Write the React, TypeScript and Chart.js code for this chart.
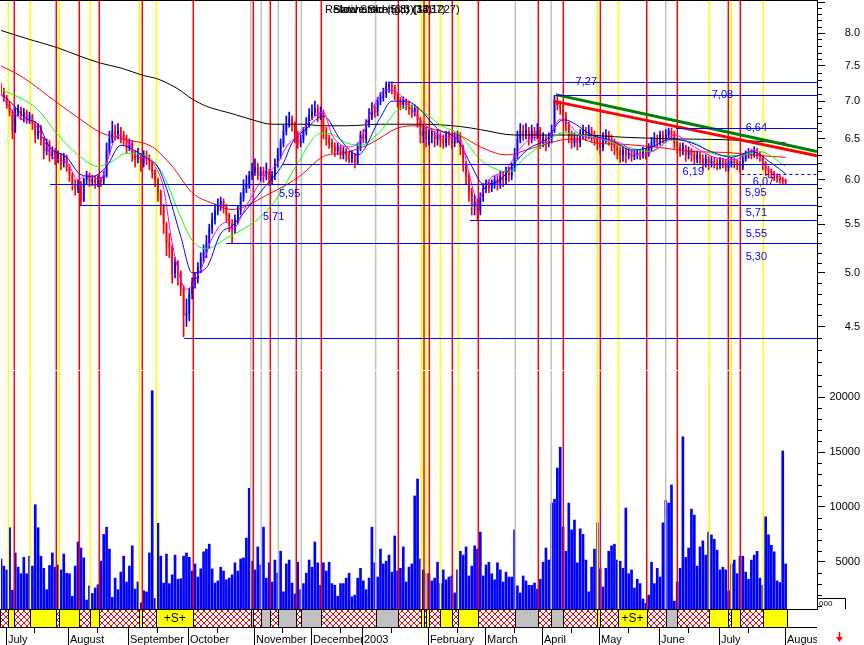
import React, { useEffect, useRef } from 'react';
import { Chart, registerables } from 'chart.js';
Chart.register(...registerables);

// ---------- data ----------
const N_SLOTS = 287; // trading-day slots on the x axis (data + empty space at right)
const FIRST_OPEN = 7.2;

const CLOSE = [
  7.15,7.05,6.95,6.85,6.6,6.85,6.9,6.8,6.85,6.75,
  6.8,6.7,6.55,6.65,6.5,6.35,6.45,6.3,6.35,6.25,
  6.3,6.2,6.28,6.15,6.05,5.95,5.9,5.95,5.75,6.0,
  6.05,5.98,6.0,5.97,6.0,5.98,6.05,6.35,6.5,6.6,
  6.55,6.6,6.55,6.5,6.4,6.45,6.3,6.25,6.3,6.2,
  6.3,6.25,6.2,6.1,6.0,5.85,5.7,5.5,5.3,5.25,
  5.0,5.1,5.0,4.85,4.6,4.62,4.8,4.9,4.95,5.05,
  5.15,5.2,5.3,5.45,5.55,5.65,5.7,5.75,5.7,5.6,
  5.5,5.45,5.55,5.65,5.8,5.9,5.95,6.05,6.1,6.15,
  6.05,6.1,6.05,6.1,6.0,6.05,6.2,6.3,6.45,6.6,
  6.7,6.75,6.7,6.55,6.45,6.5,6.6,6.7,6.8,6.85,
  6.9,6.8,6.85,6.6,6.5,6.45,6.4,6.35,6.4,6.3,
  6.35,6.3,6.25,6.3,6.2,6.4,6.55,6.5,6.7,6.8,
  6.9,6.85,7.0,7.05,7.1,7.2,7.22,7.2,7.1,7.0,
  6.95,7.0,6.95,6.9,6.85,6.9,6.75,6.55,6.6,6.5,
  6.55,6.55,6.5,6.55,6.5,6.45,6.55,6.5,6.45,6.5,
  6.55,6.4,6.2,6.05,5.85,5.7,5.75,5.65,5.8,5.9,
  5.95,5.9,5.95,6.0,5.95,6.05,6.0,6.1,6.05,6.15,
  6.3,6.5,6.6,6.55,6.6,6.5,6.6,6.55,6.6,6.45,
  6.5,6.45,6.5,6.6,7.0,6.95,6.9,6.8,6.7,6.55,
  6.45,6.5,6.45,6.55,6.6,6.55,6.6,6.55,6.5,6.45,
  6.4,6.5,6.55,6.5,6.45,6.4,6.35,6.3,6.35,6.3,
  6.32,6.28,6.3,6.32,6.3,6.35,6.3,6.38,6.45,6.5,
  6.45,6.55,6.5,6.55,6.6,6.55,6.45,6.4,6.35,6.4,
  6.3,6.35,6.3,6.25,6.3,6.25,6.2,6.25,6.2,6.22,
  6.2,6.18,6.22,6.2,6.15,6.2,6.22,6.2,6.18,6.15,
  6.25,6.3,6.32,6.3,6.35,6.3,6.28,6.2,6.12,6.1,
  6.08,6.05,6.02,6.0,5.98,5.97
];
const HIGH = [
  7.25,7.18,7.08,7.0,6.88,6.9,6.95,6.92,6.9,6.88,
  6.85,6.82,6.72,6.7,6.68,6.52,6.5,6.48,6.4,6.38,
  6.35,6.32,6.32,6.3,6.18,6.08,6.0,6.0,5.98,6.02,
  6.1,6.08,6.05,6.04,6.05,6.03,6.1,6.45,6.6,6.73,
  6.68,6.7,6.65,6.6,6.55,6.5,6.48,6.35,6.38,6.32,
  6.35,6.35,6.3,6.22,6.12,6.02,5.88,5.72,5.52,5.4,
  5.28,5.15,5.12,5.02,4.88,4.75,4.85,4.95,5.0,5.1,
  5.2,5.28,5.38,5.5,5.62,5.72,5.78,5.8,5.78,5.72,
  5.62,5.55,5.6,5.7,5.85,6.0,6.05,6.1,6.2,6.25,
  6.2,6.15,6.15,6.2,6.12,6.1,6.25,6.38,6.5,6.68,
  6.8,6.85,6.8,6.72,6.6,6.55,6.65,6.78,6.9,6.95,
  7.0,6.95,6.92,6.88,6.65,6.55,6.5,6.45,6.45,6.42,
  6.4,6.38,6.33,6.35,6.32,6.45,6.6,6.62,6.75,6.9,
  6.98,6.95,7.05,7.12,7.18,7.27,7.27,7.27,7.22,7.12,
  7.05,7.06,7.03,7.0,6.95,6.95,6.92,6.78,6.68,6.65,
  6.62,6.62,6.6,6.62,6.58,6.55,6.6,6.6,6.55,6.58,
  6.6,6.58,6.42,6.22,6.08,5.9,5.82,5.78,5.85,5.95,
  6.0,6.0,6.0,6.05,6.05,6.1,6.1,6.15,6.15,6.2,
  6.38,6.6,6.7,6.68,6.7,6.65,6.68,6.65,6.7,6.65,
  6.58,6.55,6.58,6.68,7.08,7.08,7.0,6.95,6.85,6.72,
  6.6,6.58,6.55,6.62,6.68,6.65,6.68,6.65,6.6,6.55,
  6.5,6.58,6.62,6.6,6.55,6.5,6.45,6.4,6.4,6.38,
  6.38,6.36,6.35,6.37,6.36,6.4,6.38,6.44,6.52,6.58,
  6.55,6.6,6.6,6.62,6.64,6.64,6.6,6.5,6.45,6.45,
  6.42,6.4,6.38,6.35,6.35,6.33,6.3,6.3,6.28,6.28,
  6.27,6.25,6.27,6.26,6.24,6.25,6.27,6.26,6.24,6.22,
  6.3,6.35,6.38,6.37,6.4,6.38,6.34,6.3,6.22,6.16,
  6.13,6.1,6.07,6.05,6.03,6.01
];
const LOW = [
  7.08,7.0,6.9,6.8,6.5,6.58,6.8,6.75,6.72,6.7,
  6.7,6.62,6.45,6.5,6.42,6.25,6.3,6.22,6.25,6.18,
  6.2,6.12,6.15,6.1,5.98,5.88,5.82,5.85,5.71,5.75,
  5.95,5.92,5.93,5.9,5.92,5.92,5.95,6.03,6.3,6.45,
  6.48,6.5,6.45,6.42,6.32,6.35,6.22,6.15,6.2,6.1,
  6.15,6.18,6.12,6.02,5.92,5.75,5.6,5.4,5.17,5.15,
  4.9,4.95,4.88,4.78,4.41,4.5,4.55,4.75,4.85,4.9,
  5.0,5.1,5.15,5.25,5.4,5.5,5.6,5.65,5.62,5.52,
  5.42,5.3,5.4,5.5,5.6,5.75,5.85,5.9,6.0,6.05,
  6.0,5.98,5.97,6.0,5.93,5.95,6.0,6.15,6.25,6.4,
  6.55,6.65,6.6,6.45,6.38,6.4,6.45,6.55,6.65,6.75,
  6.8,6.72,6.75,6.5,6.42,6.38,6.32,6.28,6.3,6.25,
  6.25,6.22,6.2,6.2,6.14,6.18,6.35,6.45,6.45,6.65,
  6.75,6.78,6.8,6.95,7.0,7.05,7.12,7.1,7.02,6.92,
  6.88,6.9,6.88,6.82,6.78,6.8,6.65,6.45,6.45,6.4,
  6.42,6.45,6.4,6.42,6.4,6.38,6.4,6.42,6.38,6.4,
  6.45,6.3,6.1,5.95,5.75,5.6,5.6,5.55,5.6,5.75,
  5.85,5.85,5.86,5.9,5.88,5.9,5.92,5.95,5.98,6.0,
  6.1,6.25,6.45,6.48,6.5,6.42,6.45,6.48,6.5,6.38,
  6.4,6.35,6.4,6.45,6.58,6.88,6.82,6.72,6.6,6.45,
  6.38,6.4,6.36,6.4,6.5,6.48,6.5,6.46,6.42,6.36,
  6.3,6.35,6.45,6.42,6.35,6.3,6.25,6.2,6.22,6.2,
  6.25,6.22,6.24,6.25,6.24,6.26,6.25,6.28,6.35,6.4,
  6.4,6.42,6.45,6.46,6.5,6.48,6.38,6.32,6.28,6.3,
  6.22,6.25,6.22,6.18,6.2,6.18,6.12,6.15,6.12,6.15,
  6.14,6.12,6.13,6.14,6.1,6.1,6.15,6.14,6.12,6.08,
  6.12,6.22,6.26,6.25,6.27,6.25,6.22,6.12,6.05,6.03,
  6.02,5.99,5.97,5.96,5.95,5.95
];
const VOLUME = [
  5250,4600,4250,8100,2400,5800,4500,3900,5400,3900,
  5500,4600,10200,8100,5500,4400,2450,4650,5800,4500,
  4700,4250,5700,3950,3900,1850,4600,6800,6250,5350,
  1500,2800,2100,2600,2900,5050,7500,8150,6150,1750,
  3500,2450,4050,5500,3150,4600,6450,2500,3150,1250,
  2350,2250,5800,20600,1650,8500,5500,3050,5700,3000,
  3800,5600,3400,3450,5500,5800,5400,4150,4800,3600,
  4350,5900,6150,6600,4350,3050,3250,4500,4150,3350,
  3500,3800,4900,4150,5250,5350,7150,11700,5050,4250,
  6350,4700,8150,3500,4900,3150,5150,3950,5950,2250,
  4800,5150,3050,2050,4950,2450,3000,3950,5150,4500,
  6800,4900,2850,4900,4150,4950,3000,2850,1850,3000,
  3000,3500,3950,1800,1950,3500,4400,3250,2450,3500,
  8150,4900,3600,6150,4800,5050,5600,4050,7350,4150,
  4400,6350,3150,4500,4800,11000,12550,5250,4250,3950,
  3900,3250,3500,4950,3000,4250,3350,3600,3700,2150,
  4250,5950,5600,6350,3700,4600,6450,6150,7700,3700,
  4700,4950,3900,3350,4900,4250,3150,4050,3600,3600,
  7900,2800,2150,3700,3250,2850,2850,3050,2500,3400,
  4950,6250,5150,10350,10700,13550,15450,8150,5950,10350,
  7900,8800,4900,8000,7500,5150,2250,4500,6150,8550,
  4350,2700,4400,5950,6450,6600,5150,5050,4400,9900,
  3900,4250,2600,3400,3000,1600,1200,1950,4950,3000,
  4400,3600,8550,10600,10350,12000,1400,3150,4400,16400,
  5400,6250,9800,9250,4600,6350,6900,5600,7700,7450,
  7050,6050,4250,4500,4250,2350,4800,5150,3900,5500,
  5500,4050,3400,5150,5600,5950,3500,2850,9100,7450,
  6500,5900,3250,3100,15100,4800
];

// moving averages: [day index, value]
const MA_MAGENTA = [[0,7.1],[2,6.97],[7,6.76],[11,6.72],[15,6.49],[18,6.27],[23,6.21],[27,6.0],[30,6.06],[35,6.0],[37,6.2],[41,6.55],[44,6.49],[48,6.27],[51,6.26],[54,6.16],[57,5.9],[60,5.3],[65,4.84],[70,5.03],[74,5.35],[79,5.52],[81,5.44],[86,5.7],[92,6.03],[97,6.2],[100,6.4],[104,6.55],[109,6.76],[113,6.85],[116,6.55],[122,6.4],[126,6.49],[130,6.88],[135,7.16],[140,7.08],[144,6.88],[149,6.67],[156,6.52],[161,6.49],[164,6.08],[167,5.77],[171,6.0],[177,6.12],[182,6.38],[187,6.52],[191,6.45],[196,6.76],[199,6.69],[203,6.55],[210,6.5],[217,6.45],[224,6.3],[231,6.4],[236,6.55],[243,6.4],[250,6.27],[257,6.24],[264,6.36],[268,6.16],[275,5.98]];
const MA_BLUE = [[0,7.1],[3,7.0],[9,6.76],[13,6.69],[17,6.4],[23,6.27],[28,6.06],[32,6.04],[37,6.16],[42,6.42],[47,6.35],[51,6.26],[55,6.15],[58,5.9],[63,5.37],[67,5.0],[72,5.05],[77,5.4],[81,5.48],[86,5.66],[92,5.9],[99,6.2],[102,6.45],[107,6.63],[113,6.8],[119,6.49],[125,6.3],[133,6.78],[137,7.0],[142,7.0],[147,6.88],[153,6.63],[160,6.49],[165,6.16],[169,5.95],[175,6.0],[179,6.16],[185,6.38],[191,6.49],[197,6.75],[200,6.72],[207,6.55],[214,6.48],[221,6.36],[228,6.4],[235,6.5],[242,6.45],[249,6.34],[256,6.27],[263,6.34],[270,6.2],[275,6.07]];
const MA_GREEN = [[0,7.16],[7,7.04],[13,6.88],[20,6.55],[27,6.3],[34,6.16],[39,6.22],[44,6.32],[49,6.3],[52,6.27],[57,6.05],[62,5.65],[67,5.33],[72,5.24],[79,5.35],[84,5.43],[91,5.58],[97,5.8],[104,6.2],[112,6.57],[115,6.57],[121,6.45],[126,6.42],[133,6.6],[139,6.88],[144,6.93],[149,6.83],[154,6.68],[161,6.55],[168,6.24],[174,6.12],[178,6.09],[184,6.28],[191,6.45],[197,6.58],[203,6.55],[208,6.52],[219,6.4],[228,6.34],[235,6.49],[243,6.45],[251,6.3],[259,6.29],[266,6.34],[275,6.16]];
const MA_RED = [[0,7.5],[7,7.35],[20,6.97],[28,6.75],[35,6.58],[44,6.49],[53,6.4],[60,6.16],[67,5.85],[74,5.73],[81,5.66],[86,5.7],[93,5.82],[100,5.94],[105,6.05],[113,6.28],[121,6.33],[130,6.45],[139,6.64],[146,6.67],[154,6.6],[161,6.54],[168,6.4],[177,6.3],[186,6.38],[197,6.49],[203,6.5],[208,6.45],[219,6.43],[231,6.39],[243,6.34],[254,6.33],[266,6.29],[275,6.27]];
const MA_BLACK = [[0,8.04],[10,7.9],[20,7.77],[28,7.64],[35,7.54],[42,7.47],[50,7.36],[55,7.31],[62,7.17],[67,7.03],[72,6.93],[81,6.83],[88,6.75],[95,6.69],[105,6.69],[113,6.67],[121,6.67],[133,6.69],[147,6.69],[161,6.66],[168,6.62],[180,6.55],[191,6.55],[203,6.55],[219,6.52],[237,6.5],[254,6.49],[275,6.45]];

// trend lines: [day index, price]
const TREND_GREEN = [[194.5,7.09],[286,6.34]];
const TREND_RED = [[193.5,7.0],[286,6.29]];

// support / resistance levels
const LEVEL_VALUES = [7.27, 7.08, 6.64, 6.19, 5.95, 5.71, 5.55, 5.30, 4.40];
const LEVEL_START = [136.3, 194.2, 236.6, 98.8, 17.2, 27.4, 164.4, 78.9, 64.2];
const DASHED_LEVEL = 6.07;
const DASHED_START = 259.5;
const LEVEL_TEXT = ['7,27','7,08','6,64','6,19','6,07','5,95','5,71','5,55','5,30','5,95','5,71'];
const LEVEL_TEXT_VALUE = [7.27, 7.08, 6.64, 6.19, 6.07, 5.95, 5.71, 5.55, 5.30, 5.95, 5.71];
const LEVEL_TEXT_DAY = [201.4, 249.1, 261, 238.9, 263.5, 260.8, 261, 261, 261, 97.4, 91.8];

// time-cycle lines: day index and kind (Y yellow, R red, G grey)
const CYCLE_POS = [2.56,4.66,10.27,19.38,20.43,27.44,31.3,34.45,48.47,49.53,54.43,67.4,87.52,88.43,91.24,94.39,97.2,103.5,105.26,112.27,131.3,139.26,147.3,148.26,148.96,150.12,153.98,158.18,160.29,167.3,180.27,188.33,192.88,197.09,209.0,210.06,216.37,226.32,232.98,237.05,248.26,254.92,255.98,259.13,267.19];
const CYCLE_KIND = ['Y','R','Y','R','Y','R','Y','R','Y','R','Y','R','G','R','G','R','G','R','G','R','G','R','Y','R','Y','R','Y','R','Y','R','G','R','G','R','Y','R','Y','R','G','R','Y','R','Y','R','Y'];
const STRIP_LABEL_AT = [54.43, 216.37];
const STRIP_LABEL = '+S+';

// month axis
const MONTH_NAMES = ['July','August','September','October','November','December','2003','February','March','April','May','June','July','August'];
const MONTH_START = [2,24,45,66,89,109,127,150,170,190,210,231,252,275];

const PRICE_TICKS = [4.5,5,5.5,6,6.5,7,7.5,8,8.5];
const VOLUME_TICKS = [5000,10000,15000,20000];
const PRICE_MIN = 4.132, PRICE_MAX = 8.535;
const VOL_MIN = 684, VOL_MAX = 22400;

const TITLES = ['Relative Strength (14)', 'Stochastic (5,3) (33,1227)', 'Slow Stoch (6,3)(1237)'];

// ---------- styling ----------
const FONT = '"Liberation Sans", Arial, sans-serif';
const CYCLE_COLOR: any = { Y: '#ffff00', R: '#ff0000', G: '#c0c0c0' };
const UP = '#0000ff', DOWN = '#ff0000';

function pts(arr: number[][]) { return arr.map(([x, y]) => ({ x, y })); }

function drawCycles(chart: any, top: number, bottom: number) {
  const { ctx, scales } = chart;
  ctx.save();
  ctx.lineWidth = 1.5;
  CYCLE_POS.forEach((p, i) => {
    const px = scales.x.getPixelForValue(p);
    ctx.strokeStyle = CYCLE_COLOR[CYCLE_KIND[i]];
    ctx.beginPath(); ctx.moveTo(px, top); ctx.lineTo(px, bottom); ctx.stroke();
  });
  ctx.restore();
}

const pricePlugin = {
  id: 'priceDeco',
  beforeDatasetsDraw(chart: any) {
    const ca = chart.chartArea;
    drawCycles(chart, ca.top, ca.bottom);
  },
  afterDraw(chart: any) {
    const { ctx, chartArea: ca, scales } = chart;
    const xs = scales.x, ys = scales.y;
    ctx.save();
    ctx.beginPath(); ctx.rect(0, 0, ca.right, ca.bottom); ctx.clip();
    ctx.strokeStyle = '#0000ff'; ctx.lineWidth = 1;
    LEVEL_VALUES.forEach((v, i) => {
      const y = Math.round(ys.getPixelForValue(v)) + 0.5;
      ctx.beginPath(); ctx.moveTo(xs.getPixelForValue(LEVEL_START[i]), y); ctx.lineTo(ca.right, y); ctx.stroke();
    });
    ctx.setLineDash([3, 3]);
    const yd = Math.round(ys.getPixelForValue(DASHED_LEVEL)) + 0.5;
    ctx.beginPath(); ctx.moveTo(xs.getPixelForValue(DASHED_START), yd); ctx.lineTo(ca.right, yd); ctx.stroke();
    ctx.setLineDash([]);
    const dy = [0, 0, 0, 8.5, 8.5, 8.5, 8, 14, 13.5, 10, 12];
    ctx.fillStyle = '#0000ff'; ctx.font = '11px ' + FONT; ctx.textBaseline = 'middle'; ctx.textAlign = 'left';
    LEVEL_TEXT.forEach((t, i) => {
      ctx.fillText(t, xs.getPixelForValue(LEVEL_TEXT_DAY[i]), ys.getPixelForValue(LEVEL_TEXT_VALUE[i]) + dy[i]);
    });
    ctx.restore();

    ctx.save();
    // top border
    ctx.strokeStyle = '#000'; ctx.lineWidth = 1;
    ctx.beginPath(); ctx.moveTo(0, 0.5); ctx.lineTo(ca.right, 0.5); ctx.stroke();
    // minor ticks
    for (let i = 42; i <= 85; i++) {
      if (i % 5 === 0) continue;
      const y = Math.round(ys.getPixelForValue(i / 10)) + 0.5;
      ctx.beginPath(); ctx.moveTo(ca.right, y); ctx.lineTo(ca.right + 5, y); ctx.stroke();
    }
    // overlapping indicator titles
    ctx.fillStyle = '#000'; ctx.font = '11px ' + FONT; ctx.textBaseline = 'middle';
    ctx.fillText(TITLES[0], 325, 10);
    ctx.fillText(TITLES[1], 333, 10);
    ctx.fillText(TITLES[2], 333, 10);
    ctx.restore();
  },
};

let hatch: any = null;
function getHatch(ctx: CanvasRenderingContext2D) {
  if (hatch) return hatch;
  const c = document.createElement('canvas');
  c.width = 6; c.height = 6;
  const g = c.getContext('2d')!;
  g.fillStyle = '#ffffff'; g.fillRect(0, 0, 6, 6);
  g.fillStyle = '#ff0000';
  for (let i = 0; i < 6; i++) { g.fillRect(i, i, 1, 1); g.fillRect(5 - i, i, 1, 1); }
  hatch = ctx.createPattern(c, 'repeat');
  return hatch;
}

const volPlugin = {
  id: 'volDeco',
  afterDraw(chart: any) {
    const { ctx, chartArea: ca, scales } = chart;
    const xs = scales.x, ys = scales.y;
    drawCycles(chart, ca.top, ca.bottom);
    ctx.save();
    // strip of cycle boxes
    const top = ca.bottom, bot = ca.bottom + 18;
    const bounds = [xs.getPixelForValue(-0.35), ...CYCLE_POS.map((p) => xs.getPixelForValue(p)), xs.getPixelForValue(CLOSE.length - 0.45)];
    const kinds = ['R', ...CYCLE_KIND];
    for (let i = 0; i < bounds.length - 1; i++) {
      const k = kinds[i];
      ctx.fillStyle = k === 'Y' ? '#ffff00' : k === 'G' ? '#c0c0c0' : getHatch(ctx);
      ctx.fillRect(bounds[i], top, bounds[i + 1] - bounds[i], bot - top);
    }
    ctx.strokeStyle = '#000'; ctx.lineWidth = 1;
    bounds.forEach((b) => {
      const x = Math.round(b) + 0.5;
      ctx.beginPath(); ctx.moveTo(x, top); ctx.lineTo(x, bot); ctx.stroke();
    });
    ctx.beginPath(); ctx.moveTo(0, top + 0.5); ctx.lineTo(ca.right, top + 0.5); ctx.stroke();
    ctx.beginPath(); ctx.moveTo(0, bot + 0.5); ctx.lineTo(ca.right, bot + 0.5); ctx.stroke();
    ctx.fillStyle = '#000'; ctx.font = '12px ' + FONT; ctx.textAlign = 'center'; ctx.textBaseline = 'middle';
    STRIP_LABEL_AT.forEach((p) => {
      const i = CYCLE_POS.indexOf(p);
      const a = xs.getPixelForValue(p), b = xs.getPixelForValue(CYCLE_POS[i + 1]);
      ctx.fillText(STRIP_LABEL, (a + b) / 2, (top + bot) / 2 + 1);
    });
    // month axis
    ctx.save();
    ctx.beginPath(); ctx.rect(0, bot, ca.right, 40); ctx.clip();
    ctx.textAlign = 'left'; ctx.textBaseline = 'alphabetic'; ctx.font = '11px ' + FONT;
    MONTH_START.forEach((m, i) => {
      const x = Math.round(xs.getPixelForValue(m) - 1) + 0.5;
      ctx.beginPath(); ctx.moveTo(x, bot); ctx.lineTo(x, bot + 18); ctx.stroke();
      const mid = m + 10;
      if (i < MONTH_START.length - 1 && mid < MONTH_START[i + 1] - 2) {
        const xm = Math.round(xs.getPixelForValue(mid) - 1) + 0.5;
        ctx.beginPath(); ctx.moveTo(xm, bot); ctx.lineTo(xm, bot + 6); ctx.stroke();
      }
      ctx.fillText(MONTH_NAMES[i], x + 1.5, bot + 16);
    });
    ctx.restore();
    // volume minor ticks
    for (let v = 1000; v <= 22000; v += 1000) {
      if (v % 5000 === 0) continue;
      const y = Math.round(ys.getPixelForValue(v)) + 0.5;
      ctx.beginPath(); ctx.moveTo(ca.right, y); ctx.lineTo(ca.right + 5, y); ctx.stroke();
    }
    // small scale box at bottom right
    const by = ca.bottom - 10.5;
    ctx.beginPath(); ctx.moveTo(ca.right, by); ctx.lineTo(ca.right + 28.5, by); ctx.lineTo(ca.right + 28.5, ca.bottom); ctx.stroke();
    ctx.font = '8px ' + FONT; ctx.textBaseline = 'middle'; ctx.textAlign = 'left';
    ctx.fillText('000', ca.right + 2, by + 5);
    // red arrow
    ctx.strokeStyle = '#ff0000'; ctx.fillStyle = '#ff0000'; ctx.lineWidth = 1.5;
    const ax = ca.right + 22.5;
    ctx.beginPath(); ctx.moveTo(ax, bot + 5); ctx.lineTo(ax, bot + 11); ctx.stroke();
    ctx.beginPath(); ctx.moveTo(ax - 3.5, bot + 10); ctx.lineTo(ax + 3.5, bot + 10); ctx.lineTo(ax, bot + 15); ctx.closePath(); ctx.fill();
    ctx.restore();
  },
};

function yAxis(extra: any) {
  return {
    position: 'right',
    bounds: 'data',
    afterFit: (s: any) => { s.width = 43; s.paddingTop = 0; s.paddingBottom = 0; },
    grid: { drawOnChartArea: false, drawTicks: true, tickLength: 8, color: '#000', lineWidth: 1 },
    border: { display: true, color: '#000', width: 1 },
    ...extra,
  };
}

export default function App() {
  const priceRef = useRef<HTMLCanvasElement>(null);
  const volRef = useRef<HTMLCanvasElement>(null);

  useEffect(() => {
    Chart.defaults.font.family = FONT;
    Chart.defaults.font.size = 11;
    Chart.defaults.color = '#000';

    const opens = CLOSE.map((c, i) => (i === 0 ? FIRST_OPEN : CLOSE[i - 1]));
    const candleColors = CLOSE.map((c, i) => (c >= opens[i] ? UP : DOWN));
    const bodies = CLOSE.map((c, i) => ({ x: i, y: [opens[i], c] }));
    const wicks = CLOSE.map((c, i) => ({ x: i, y: [LOW[i], HIGH[i]] }));
    const line = (data: number[][], color: string, width = 1) => ({
      type: 'line', data: pts(data), borderColor: color, borderWidth: width, pointRadius: 0,
      cubicInterpolationMode: 'monotone', fill: false,
    });

    const common: any = {
      responsive: true, maintainAspectRatio: false, animation: false, devicePixelRatio: 1, events: [],
      plugins: { legend: { display: false }, tooltip: { enabled: false } },
    };

    const price = new Chart(priceRef.current!, {
      type: 'bar',
      data: {
        datasets: [
          line(TREND_GREEN, '#008000', 3),
          line(TREND_RED, '#ff0000', 3),
          line(MA_MAGENTA, '#ff00ff'),
          line(MA_BLUE, '#0000ff'),
          line(MA_GREEN, '#00ff00'),
          line(MA_RED, '#ff0000'),
          line(MA_BLACK, '#000000'),
          { type: 'bar', data: bodies, backgroundColor: candleColors, borderWidth: 0, grouped: false, barThickness: 1, maxBarThickness: 3, minBarLength: 1 },
          { type: 'bar', data: wicks, backgroundColor: candleColors, borderWidth: 0, grouped: false, barThickness: 1, maxBarThickness: 1 },
        ] as any,
      },
      options: {
        ...common,
        layout: { padding: { left: 1, right: 4, top: 0, bottom: 1 } },
        scales: {
          x: { type: 'linear', min: 0, max: N_SLOTS - 1, display: false, offset: false },
          y: yAxis({
            type: 'logarithmic', min: PRICE_MIN, max: PRICE_MAX,
            afterBuildTicks: (s: any) => { s.ticks = PRICE_TICKS.map((v) => ({ value: v })); },
            ticks: { callback: (v: any) => (v === 8.5 ? '' : Number(v).toFixed(1)), padding: 19, crossAlign: 'far', autoSkip: false, color: '#000', font: { size: 11 } },
          }),
        },
      } as any,
      plugins: [pricePlugin],
    });

    const volume = new Chart(volRef.current!, {
      type: 'bar',
      data: {
        datasets: [
          { data: VOLUME.map((v, i) => ({ x: i, y: v })), backgroundColor: '#0000ff', borderWidth: 0, barThickness: 2 },
        ] as any,
      },
      options: {
        ...common,
        layout: { padding: { left: 1, right: 4, top: 0, bottom: 36 } },
        scales: {
          x: { type: 'linear', min: 0, max: N_SLOTS - 1, display: false, offset: false },
          y: yAxis({
            type: 'linear', min: VOL_MIN, max: VOL_MAX,
            afterBuildTicks: (s: any) => { s.ticks = VOLUME_TICKS.map((v) => ({ value: v })); },
            ticks: { callback: (v: any) => String(v), padding: 3, crossAlign: 'far', autoSkip: false, color: '#000', font: { size: 11 } },
          }),
        },
      } as any,
      plugins: [volPlugin],
    });

    return () => { price.destroy(); volume.destroy(); };
  }, []);

  return (
    <div style={{ position: 'fixed', left: 0, top: 0, width: 864, height: 645, background: '#fff' }}>
      <div style={{ position: 'absolute', left: 0, top: 0, width: 864, height: 371 }}>
        <canvas ref={priceRef} />
      </div>
      <div style={{ position: 'absolute', left: 0, top: 371, width: 864, height: 274 }}>
        <canvas ref={volRef} />
      </div>
    </div>
  );
}
